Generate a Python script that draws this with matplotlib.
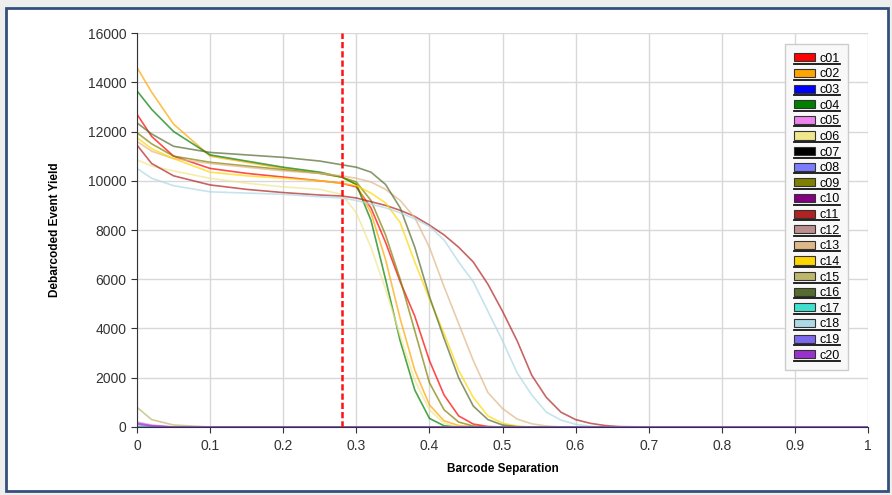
import numpy as np
import matplotlib
matplotlib.use("Agg")
import matplotlib.pyplot as plt
from matplotlib.patches import Rectangle
from matplotlib.lines import Line2D

plt.rcParams['font.family'] = ['Liberation Sans', 'DejaVu Sans']

# barcode separation grid
sep = [0, 0.02, 0.05, 0.1, 0.15, 0.2, 0.25, 0.28, 0.3, 0.32, 0.34, 0.36, 0.38, 0.4,
       0.42, 0.44, 0.46, 0.48, 0.5, 0.52, 0.54, 0.56, 0.58, 0.6, 0.62, 0.64, 0.66,
       0.7, 0.8, 0.9, 1.0]

zero = [0] * len(sep)
c01 = [12700, 11800, 11000, 10500, 10300, 10150, 10000, 9900, 9750, 8900, 7500, 5900, 4500, 2700,
       1300, 450, 120, 20, 0, 0, 0, 0, 0, 0, 0, 0, 0, 0, 0, 0, 0]
c02 = [14600, 13600, 12300, 11000, 10750, 10500, 10300, 10150, 9850, 8700, 6800, 4400, 2300, 900,
       250, 60, 10, 0, 0, 0, 0, 0, 0, 0, 0, 0, 0, 0, 0, 0, 0]
c04 = [13650, 12900, 12000, 11050, 10800, 10550, 10350, 10150, 9850, 8400, 6000, 3500, 1500, 350,
       50, 0, 0, 0, 0, 0, 0, 0, 0, 0, 0, 0, 0, 0, 0, 0, 0]
c05 = [200, 80, 0, 0, 0, 0, 0, 0, 0, 0, 0, 0, 0, 0, 0, 0, 0, 0, 0, 0, 0, 0, 0, 0, 0, 0, 0, 0, 0, 0, 0]
c06 = [10850, 10600, 10400, 10100, 9900, 9750, 9650, 9450, 8700, 7300, 5600, 3700, 1900, 700,
       150, 20, 0, 0, 0, 0, 0, 0, 0, 0, 0, 0, 0, 0, 0, 0, 0]
c09 = [11950, 11500, 11000, 10750, 10600, 10450, 10300, 10150, 9950, 9200, 7800, 6000, 3900, 1800,
       700, 200, 40, 0, 0, 0, 0, 0, 0, 0, 0, 0, 0, 0, 0, 0, 0]
c11 = [11450, 10700, 10200, 9830, 9650, 9520, 9420, 9380, 9300, 9150, 9000, 8800, 8550, 8200,
       7800, 7300, 6700, 5800, 4700, 3500, 2100, 1200, 600, 300, 150, 60, 15, 0, 0, 0, 0]
c13 = [11600, 11200, 10900, 10700, 10550, 10400, 10300, 10200, 10100, 9950, 9650, 9200, 8500, 7300,
       5700, 4200, 2700, 1400, 750, 320, 130, 40, 0, 0, 0, 0, 0, 0, 0, 0, 0]
c14 = [11750, 11300, 10900, 10350, 10200, 10100, 10000, 9900, 9800, 9500, 9100, 8300, 6700, 5200,
       3800, 2300, 1200, 450, 150, 40, 0, 0, 0, 0, 0, 0, 0, 0, 0, 0, 0]
c15 = [800, 300, 80, 0, 0, 0, 0, 0, 0, 0, 0, 0, 0, 0, 0, 0, 0, 0, 0, 0, 0, 0, 0, 0, 0, 0, 0, 0, 0, 0, 0]
c16 = [12350, 11900, 11400, 11150, 11050, 10950, 10800, 10650, 10550, 10350, 9850, 8900, 7300, 5300,
       3600, 2000, 850, 300, 80, 10, 0, 0, 0, 0, 0, 0, 0, 0, 0, 0, 0]
c18 = [10500, 10100, 9800, 9550, 9500, 9450, 9350, 9300, 9200, 9050, 8900, 8700, 8450, 8150,
       7600, 6700, 5900, 4700, 3500, 2200, 1300, 600, 280, 110, 30, 0, 0, 0, 0, 0, 0]
c19 = [100, 20, 0, 0, 0, 0, 0, 0, 0, 0, 0, 0, 0, 0, 0, 0, 0, 0, 0, 0, 0, 0, 0, 0, 0, 0, 0, 0, 0, 0, 0]
c20 = [150, 50, 0, 0, 0, 0, 0, 0, 0, 0, 0, 0, 0, 0, 0, 0, 0, 0, 0, 0, 0, 0, 0, 0, 0, 0, 0, 0, 0, 0, 0]

names = ['c01', 'c02', 'c03', 'c04', 'c05', 'c06', 'c07', 'c08', 'c09', 'c10',
         'c11', 'c12', 'c13', 'c14', 'c15', 'c16', 'c17', 'c18', 'c19', 'c20']
series = [c01, c02, zero, c04, c05, c06, zero, zero, c09, zero,
          c11, zero, c13, c14, c15, c16, zero, c18, c19, c20]
colors = ['#ff0000', '#ffa500', '#0000ff', '#008000', '#ee82ee', '#f0e68c', '#000000',
          '#7b7bff', '#808000', '#800080', '#b22222', '#bc8f8f', '#deb887', '#ffd700',
          '#bdb76b', '#556b2f', '#40e0d0', '#add8e6', '#7b68ee', '#9932cc']

threshold = 0.28
xticks = [0, 0.1, 0.2, 0.3, 0.4, 0.5, 0.6, 0.7, 0.8, 0.9, 1]
xticklabels = ['0', '0.1', '0.2', '0.3', '0.4', '0.5', '0.6', '0.7', '0.8', '0.9', '1']
yticks = [0, 2000, 4000, 6000, 8000, 10000, 12000, 14000, 16000]

fig = plt.figure(figsize=(8.92, 4.95), dpi=100)
fig.patch.set_facecolor('#eeeeee')
frame = Rectangle((0.007, 0.008), 0.988, 0.976, transform=fig.transFigure,
                  facecolor='white', edgecolor='#34507a', linewidth=2, zorder=-5)
fig.add_artist(frame)
ax = fig.add_axes([0.1536, 0.1374, 0.8195, 0.7959])
ax.set_facecolor('white')

for name, ys, col in zip(names, series, colors):
    ax.plot(sep, ys, color=col, linewidth=1.2, alpha=0.7, label=name)

ax.axvline(threshold, color='#ff1010', linestyle=(0, (2.5, 1.2)), linewidth=1.8, zorder=5)

ax.set_xlim(0, 1)
ax.set_ylim(0, 16000)
ax.set_xticks(xticks)
ax.set_xticklabels(xticklabels)
ax.set_yticks(yticks)
ax.tick_params(direction='out', length=4, labelsize=10, colors='#333333')
ax.tick_params(axis='x', pad=5)
ax.grid(True, color='#d8d8d8', linewidth=1)
ax.set_axisbelow(True)
for s in ['top', 'right']:
    ax.spines[s].set_visible(False)
for s in ['left', 'bottom']:
    ax.spines[s].set_color('#333333')

ax.set_xlabel('Barcode Separation', fontsize=8.5, fontweight='bold', labelpad=7)
ax.set_ylabel('Debarcoded Event Yield', fontsize=8.5, fontweight='bold', labelpad=19)

handles = [Rectangle((0, 0), 1, 1, facecolor=c, edgecolor='#333333', linewidth=0.8) for c in colors]
leg = ax.legend(handles, names, loc='upper right', bbox_to_anchor=(0.9507, 0.911),
                bbox_transform=fig.transFigure, fontsize=9, fancybox=False,
                edgecolor='#cccccc', facecolor='#f8f8f8', framealpha=1,
                handlelength=1.7, handleheight=0.62, labelspacing=0.29,
                handletextpad=0.3, borderpad=0.7, borderaxespad=0)

# underline each legend entry
fig.canvas.draw()
for h, t in zip(leg.legend_handles, leg.get_texts()):
    hb = h.get_window_extent()
    tb = t.get_window_extent()
    yb = hb.y0 - 2.5
    fig.add_artist(Line2D([hb.x0, tb.x1 + 1], [yb, yb], transform=None,
                          color='#111111', linewidth=1.3, zorder=10))

fig.savefig('out.png', dpi=100, facecolor=fig.get_facecolor())
